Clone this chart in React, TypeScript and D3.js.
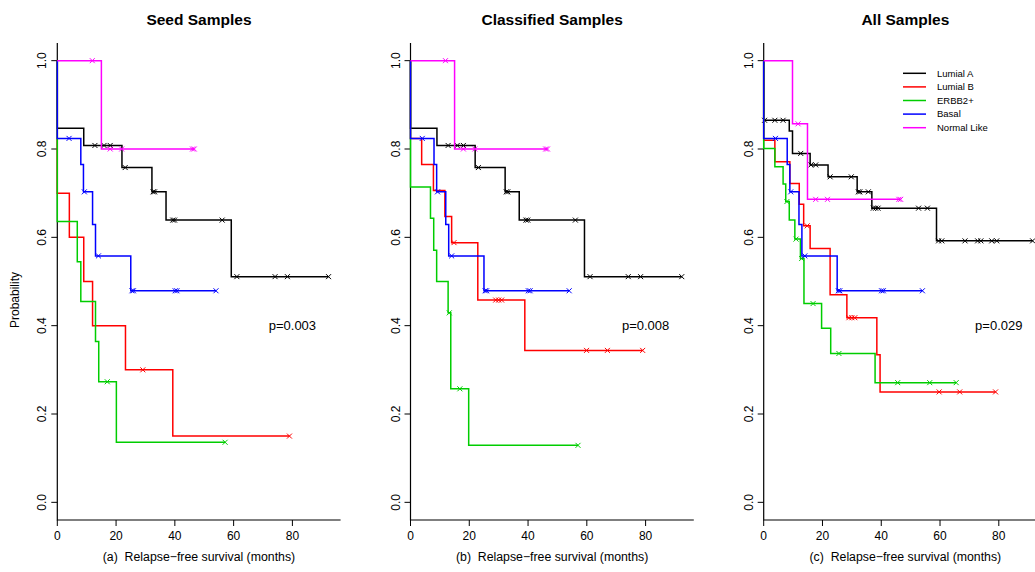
import React from 'react'
import * as d3 from 'd3'

// ---- data (months, survival probability) ----
// each curve: drop times, level after each drop, censor times

// shared by seed + classified panels
const lumATimes = [0, 9.0, 22.0, 32.2, 37.0, 59.2]
const lumASurv = [0.847, 0.808, 0.758, 0.703, 0.639, 0.511]
const lumACens = [12.8, 15.9, 18.0, 23.1, 32.6, 33.1, 39.3, 39.9, 56.1, 61.1, 74.1, 78.3, 92.3]

const basalTimes = [0, 8.0, 8.9, 12.0, 13.0, 25.0]
const basalSurv = [0.824, 0.765, 0.703, 0.629, 0.558, 0.479]
const basalCens = [4.0, 9.2, 14.0, 25.4, 25.9, 40.1, 40.7, 54.0]

const normTimes = [0, 15.0]
const normSurv = [1.0, 0.8]
const normCens = [11.9, 18.0, 21.9, 46.0, 46.6]

// seed samples
const seedLumBTimes = [0, 4.1, 9.0, 12.0, 23.2, 39.3]
const seedLumBSurv = [0.7, 0.6, 0.5, 0.4, 0.3, 0.15]
const seedLumBCens = [29.1, 79.0]

const seedErbbTimes = [0, 6.8, 8.0, 13.0, 14.1, 20.1]
const seedErbbSurv = [0.636, 0.545, 0.455, 0.364, 0.273, 0.136]
const seedErbbCens = [17.0, 57.1]

// classified samples
const clsLumBTimes = [0, 3.8, 7.8, 11.7, 14.0, 22.9, 38.9]
const clsLumBSurv = [0.824, 0.765, 0.706, 0.647, 0.588, 0.458, 0.344]
const clsLumBCens = [14.8, 29.0, 30.0, 31.0, 59.9, 67.0, 79.0]

const clsErbbTimes = [0, 6.8, 7.9, 8.9, 12.8, 13.7, 19.8]
const clsErbbSurv = [0.714, 0.643, 0.571, 0.5, 0.429, 0.257, 0.129]
const clsErbbCens = [13.2, 16.8, 57.0]

// all samples
const allLumATimes = [0, 8.7, 9.8, 15.8, 21.9, 31.8, 36.8, 58.8]
const allLumASurv = [0.865, 0.841, 0.79, 0.764, 0.737, 0.703, 0.666, 0.592]
const allLumACens = [0.3, 3.8, 6.6, 12.6, 16.1, 17.7, 22.6, 29.8, 32.2, 32.7, 35.6, 37.3, 38.1, 38.9,
  52.7, 55.7, 59.5, 60.6, 68.5, 72.8, 73.9, 77.6, 79.3, 91.5]

const allLumBTimes = [0, 3.8, 8.9, 12.1, 13.6, 15.8, 22.6, 28.3, 38.5, 39.6]
const allLumBSurv = [0.82, 0.771, 0.722, 0.675, 0.626, 0.575, 0.47, 0.418, 0.334, 0.25]
const allLumBCens = [14.8, 29.0, 30.0, 31.0, 59.7, 66.7, 78.9]

const allErbbTimes = [0, 3.8, 6.6, 7.5, 8.7, 10.6, 12.5, 13.7, 19.7, 22.8, 37.9]
const allErbbSurv = [0.801, 0.76, 0.721, 0.681, 0.639, 0.596, 0.552, 0.45, 0.394, 0.337, 0.271]
const allErbbCens = [7.9, 11.0, 12.9, 16.8, 25.6, 45.6, 56.5, 65.5]

const allNormTimes = [0, 9.8, 14.9]
const allNormSurv = [1.0, 0.857, 0.686]
const allNormCens = [11.7, 17.7, 21.7, 46.0, 46.6]

const groups = ['Lumial A', 'Lumial B', 'ERBB2+', 'Basal', 'Normal Like']
const colors = ['#000000', '#FF0000', '#00CD00', '#0000FF', '#FF00FF']
const titles = ['Seed Samples', 'Classified Samples', 'All Samples']
const xlabels = ['(a)  Relapse\u2212free survival (months)', '(b)  Relapse\u2212free survival (months)', '(c)  Relapse\u2212free survival (months)']
const pvalues = ['p=0.003', 'p=0.008', 'p=0.029']
const xTicks = [0, 20, 40, 60, 80]
const yTicks = [0, 0.2, 0.4, 0.6, 0.8, 1.0]

type Curve = { times: number[], surv: number[], cens: number[] }

const panelCurves: Curve[][] = [
  [
    { times: lumATimes, surv: lumASurv, cens: lumACens },
    { times: seedLumBTimes, surv: seedLumBSurv, cens: seedLumBCens },
    { times: seedErbbTimes, surv: seedErbbSurv, cens: seedErbbCens },
    { times: basalTimes, surv: basalSurv, cens: basalCens },
    { times: normTimes, surv: normSurv, cens: normCens },
  ],
  [
    { times: lumATimes, surv: lumASurv, cens: lumACens },
    { times: clsLumBTimes, surv: clsLumBSurv, cens: clsLumBCens },
    { times: clsErbbTimes, surv: clsErbbSurv, cens: clsErbbCens },
    { times: basalTimes, surv: basalSurv, cens: basalCens },
    { times: normTimes, surv: normSurv, cens: normCens },
  ],
  [
    { times: allLumATimes, surv: allLumASurv, cens: allLumACens },
    { times: allLumBTimes, surv: allLumBSurv, cens: allLumBCens },
    { times: allErbbTimes, surv: allErbbSurv, cens: allErbbCens },
    { times: basalTimes, surv: basalSurv, cens: basalCens },
    { times: allNormTimes, surv: allNormSurv, cens: allNormCens },
  ],
]

const font = 'Liberation Sans, Arial, Helvetica, sans-serif'

const levelAt = (c: Curve, t: number) => {
  let s = c.surv[0]
  c.times.forEach((tt, i) => { if (tt <= t) s = c.surv[i] })
  return s
}

const Panel = ({ idx }: { idx: number }) => {
  const x0 = 57.3 + idx * 353.2
  const x = d3.scaleLinear().domain([0, 96.4]).range([x0, x0 + 283.3])
  const y = d3.scaleLinear().domain([-0.04, 1.04]).range([520, 43])
  const line = d3.line<[number, number]>()
    .x(d => x(d[0]))
    .y(d => y(d[1]))
    .curve(d3.curveStepAfter)

  const cx = (x0 + x0 + 283.3) / 2

  return (
    <g>
      <text x={cx} y={24.5} textAnchor="middle" fontWeight="bold" fontSize={15.5}>{titles[idx]}</text>
      {/* box (l) and axes first, curves drawn over them */}
      <path d={`M${x0},43V520H${x0 + 283.3}`} fill="none" stroke="#000" strokeWidth={1.2} />
      {yTicks.map(v => (
        <g key={v}>
          <line x1={x0} x2={x0 - 6} y1={y(v)} y2={y(v)} stroke="#000" />
          <text transform={`translate(${x0 - 11},${y(v)}) rotate(-90)`} textAnchor="middle" fontSize={12}>{v.toFixed(1)}</text>
        </g>
      ))}
      {xTicks.map(v => (
        <g key={v}>
          <line x1={x(v)} x2={x(v)} y1={520} y2={526} stroke="#000" />
          <text x={x(v)} y={539.5} textAnchor="middle" fontSize={12}>{v}</text>
        </g>
      ))}
      <text x={cx} y={561} textAnchor="middle" fontSize={12.3} style={{ whiteSpace: 'pre' }}>{xlabels[idx]}</text>
      <text x={x(80)} y={y(0.4)} dy="0.35em" textAnchor="middle" fontSize={13}>{pvalues[idx]}</text>
      {panelCurves[idx].map((c, k) => {
        const end = Math.max(d3.max(c.cens) || 0, d3.max(c.times) || 0)
        const pts: [number, number][] = [[0, 1], ...c.times.map((t, i) => [t, c.surv[i]] as [number, number]), [end, c.surv[c.surv.length - 1]]]
        return (
          <g key={k}>
            <path d={line(pts) || ''} fill="none" stroke={colors[k]} strokeWidth={1.5} />
            {c.cens.map((t, j) => {
              const px = x(t), py = y(levelAt(c, t))
              return (
                <path key={j} d={`M${px - 2.5},${py - 2.5}L${px + 2.5},${py + 2.5}M${px - 2.5},${py + 2.5}L${px + 2.5},${py - 2.5}`}
                  stroke={colors[k]} strokeWidth={1} />
              )
            })}
          </g>
        )
      })}
    </g>
  )
}

const Legend = () => (
  <g>
    {groups.map((g, i) => {
      const ly = 73.3 + i * 13.6
      return (
        <g key={g}>
          <line x1={903} x2={926} y1={ly} y2={ly} stroke={colors[i]} strokeWidth={1.5} />
          <text x={937} y={ly} dy="0.35em" fontSize={9.5}>{g}</text>
        </g>
      )
    })}
  </g>
)

export default function App() {
  return (
    <svg width={1035} height={572} style={{ position: 'fixed', left: 0, top: 0, background: '#fff' }}
      fontFamily={font}>
      <rect width={1035} height={572} fill="#fff" />
      {titles.map((_, i) => <Panel key={i} idx={i} />)}
      <text transform="translate(19,300) rotate(-90)" textAnchor="middle" fontSize={12}>Probability</text>
      <Legend />
    </svg>
  )
}
